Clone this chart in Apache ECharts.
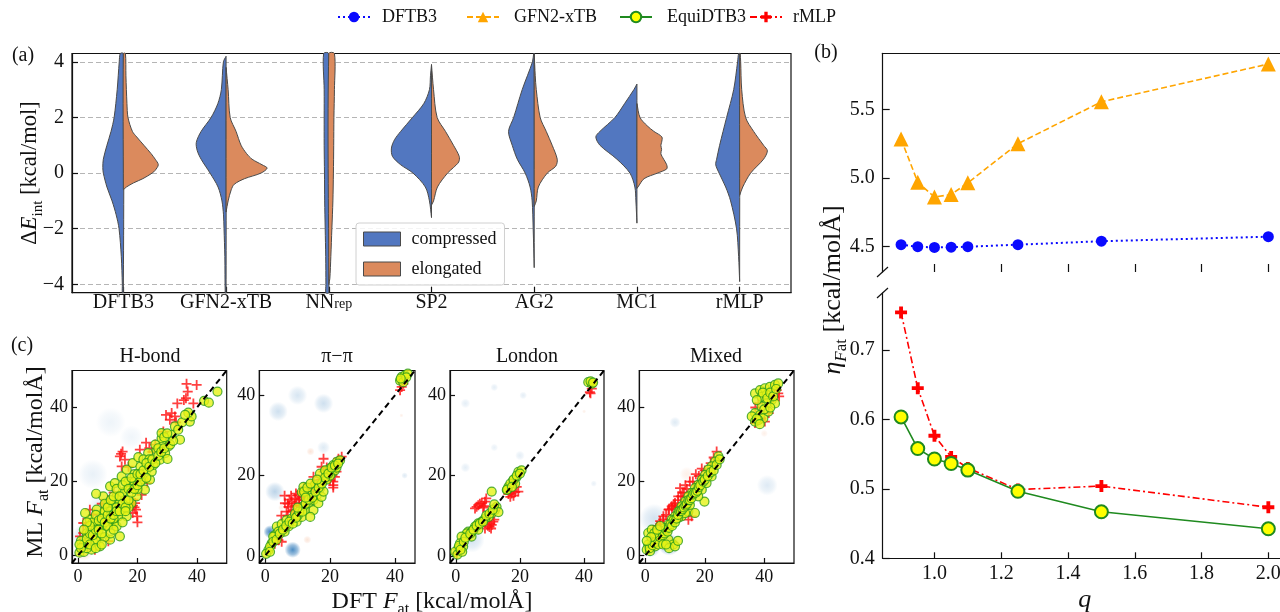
<!DOCTYPE html>
<html><head><meta charset="utf-8">
<script src="https://cdn.jsdelivr.net/npm/echarts@6/dist/echarts.min.js"></script>
<style>html,body{margin:0;padding:0;background:#fff}#c{width:1280px;height:612px}</style>
</head><body><div id="c"></div>
<script>
const FONT = 'Liberation Serif';
const INK = '#111';
// ---------------- Panel (a): split violins ----------------
const methods = ['DFTB3','GFN2-xTB','NN_rep','SP2','AG2','MC1','rMLP'];
const yTicksA = [-4,-2,0,2,4];
// density profiles: [deltaE, half-width as fraction of category band]
const compressed = [
  [[4.3,0.03],[4,0.04],[3,0.06],[2,0.09],[1.5,0.12],[1,0.16],[0.5,0.195],[0.2,0.2],[0,0.195],[-0.5,0.16],[-1,0.11],[-1.5,0.07],[-2,0.042],[-3,0.02],[-4,0.01],[-4.3,0.01]],
  [[4.2,0],[4,0.026],[3,0.046],[2.5,0.08],[2,0.146],[1.5,0.243],[1.1,0.29],[0.8,0.28],[0.5,0.243],[0,0.156],[-0.5,0.078],[-1,0.04],[-1.5,0.025],[-2,0.02],[-3,0.012],[-4.3,0.008]],
  [[4.3,0.05],[3,0.045],[2,0.045],[1,0.045],[0,0.042],[-1,0.04],[-2,0.035],[-3,0.03],[-4,0.028],[-4.3,0.028]],
  [[3.9,0],[3.5,0.01],[3,0.02],[2.5,0.075],[2,0.185],[1.5,0.3],[1.2,0.36],[0.9,0.39],[0.6,0.38],[0.3,0.3],[0,0.18],[-0.5,0.06],[-1,0.02],[-1.6,0]],
  [[4.3,0.005],[4,0.017],[3,0.117],[2,0.2],[1.5,0.25],[1,0.214],[0.5,0.165],[0,0.088],[-0.5,0.04],[-1,0.02],[-2,0.01],[-3.4,0]],
  [[3.2,0],[3,0.03],[2.5,0.12],[2,0.214],[1.5,0.36],[1.3,0.4],[1,0.36],[0.5,0.195],[0,0.068],[-0.5,0.02],[-1,0.01],[-1.8,0]],
  [[4.3,0.01],[4,0.02],[3,0.058],[2,0.127],[1,0.195],[0.5,0.224],[0.3,0.233],[0,0.2],[-0.5,0.136],[-1,0.088],[-2,0.03],[-3,0.01],[-3.9,0]]
];
const elongated = [
  [[4.3,0.02],[3.5,0.025],[2.5,0.035],[2,0.045],[1.5,0.088],[1.3,0.13],[1,0.2],[0.7,0.27],[0.5,0.31],[0.3,0.34],[0.1,0.31],[0,0.28],[-0.2,0.19],[-0.35,0.1],[-0.5,0.03],[-0.6,0]],
  [[3.8,0],[3,0.02],[2,0.04],[1.5,0.097],[1,0.146],[0.7,0.2],[0.5,0.253],[0.3,0.35],[0.18,0.4],[0,0.34],[-0.2,0.18],[-0.4,0.08],[-0.6,0.05],[-1,0.02],[-1.4,0]],
  [[4.3,0.055],[3,0.055],[2,0.05],[1,0.048],[0,0.045],[-1,0.04],[-2,0.03],[-3,0.02],[-3.8,0.01],[-4.0,0]],
  [[3.9,0],[3,0.02],[2,0.055],[1.5,0.136],[1,0.214],[0.6,0.27],[0.4,0.265],[0.2,0.214],[0,0.156],[-0.5,0.058],[-1,0.02],[-1.15,0]],
  [[4.3,0],[3.5,0.01],[3,0.02],[2,0.058],[1.5,0.117],[1,0.175],[0.5,0.224],[0.25,0.21],[0,0.127],[-0.5,0.04],[-1,0.02],[-1.2,0]],
  [[2.5,0],[2,0.03],[1.7,0.1],[1.5,0.165],[1.3,0.243],[1.1,0.24],[1,0.233],[0.85,0.24],[0.7,0.233],[0.5,0.26],[0.3,0.29],[0.15,0.29],[0,0.2],[-0.2,0.07],[-0.5,0.01],[-0.55,0]],
  [[4.3,0.005],[4,0.01],[3,0.02],[2,0.058],[1.5,0.136],[1,0.233],[0.8,0.27],[0.5,0.233],[0,0.107],[-0.5,0.03],[-0.8,0]]
];
// ---------------- Panel (b) ----------------
const qValues  = [0.9,0.95,1.0,1.05,1.1,1.25,1.5,2.0];
const etaDFTB3 = [4.515,4.50,4.495,4.497,4.50,4.515,4.54,4.573];
const etaGFN2  = [5.284,4.97,4.862,4.88,4.965,5.25,5.555,5.83];
const etaEqui  = [0.6035,0.558,0.543,0.5365,0.527,0.4965,0.467,0.4425];
const etaRMLP  = [0.754,0.645,0.5765,0.546,0.530,0.499,0.504,0.4735];
const qTicks   = [1.0,1.2,1.4,1.6,1.8,2.0];
const topTicks = [4.5,5.0,5.5];
const botTicks = [0.4,0.5,0.6,0.7];
// ---------------- Panel (c) ----------------
const panels = ['H-bond','π−π','London','Mixed'];
const cLimits = [[-2,50],[-1.8,46.2],[-1.8,46.2],[-2,50]];
const cTicks = [0,20,40];
const hbondEqui = [[0.5,0.8],[1.2,2.1],[2.0,1.0],[2.9,3.4],[4.6,1.6],[5.2,4.3],[7.4,2.5],[7.4,5.2],[9.6,7.9],[10.8,4.3],[11.9,8.8],[13.6,10.6],[14.1,5.2],[13.0,7.9],[10.8,9.7],[8.5,11.5],[6.3,12.4],[4.0,9.7],[2.4,11.5],[15.8,12.4],[16.4,10.6],[18.0,14.2],[10.2,14.2],[8.5,16.0],[6.1,16.7],[13.0,16.0],[10.8,18.7],[12.4,19.6],[14.7,21.4],[16.4,23.2],[16.4,17.8],[18.6,19.6],[19.7,16.0],[22.5,17.8],[22.0,20.5],[20.8,21.4],[23.1,23.2],[24.2,20.5],[24.8,22.7],[25.4,24.5],[18.4,25.0],[20.3,26.6],[23.6,27.7],[26.4,28.6],[27.6,25.9],[29.3,27.7],[30.1,26.1],[28.7,30.4],[30.4,29.5],[28.1,31.7],[31.5,32.6],[28.1,33.1],[32.6,34.9],[33.7,34.0],[34.3,31.3],[37.6,36.2],[38.2,37.6],[37.1,38.6],[42.4,41.8],[44.0,41.3],[46.9,44.3],[3,6],[5,7],[6,9],[8,8],[9,12],[11,12],[12,14],[14,14],[15,17],[17,20],[19,22],[21,24],[22,26],[24,26],[26,30],[27,29],[29,32],[30,33],[35,36],[36,38],[1,4],[3,2],[6,4],[9,5],[12,10],[13,13],[16,15],[17,13],[20,18],[19,20],
  [2,3],[3,4.5],[4,3],[4,6],[5,5.5],[5,9],[6,7],[6,11],[7,7],[7,9.5],[8,6],[8,10],[9,9],[9,14],[10,8],[10,11],[10,13],[11,10],[11,15],[12,11],[12,16],[13,12],[13,18],[14,12],[14,16],[15,14],[15,19],[16,13],[16,20],[17,15],[17,18],[18,17],[18,21],[19,18],[20,19],[20,22],[21,20],[21,22],[22,23],[23,21],[23,25],[24,24],[25,26],[26,25],[27,27],[28,28],[29,29],[31,30],[32,31],[4,8],[3,9],[2,7],[1,2],[0.5,3],[6,2],[8,3],[11,6],[12,7],[15,9],[16,12]];
const hbondRMLP = [[36.5,46.4],[39.9,46.1],[36.9,44.3],[36.3,42.5],[35.6,42.0],[38.8,41.1],[33.4,41.1],[31.5,38.5],[29.6,38.0],[32.6,37.6],[30.9,36.7],[28.7,33.5],[22.9,30.5],[20.8,28.6],[15.0,28.1],[14.1,26.8],[14.7,24.1],[15.8,25.9],[14.5,27.5],[19.2,14.2],[19.5,12.4],[19.9,10.6],[18.6,15.1],[18.4,11.5],[19.0,13.0],[23.3,19.6],[21.4,16.4],[4.0,12.4],[1.8,8.8],[0.7,5.2],[10.2,3.9],[5.7,1.6],[1.8,6.1],[26,30],[24,29],[3,8],[5,11],[8,14],[12,17],[10,15],[20,9],[18.5,13.5],[17,24],[25,28],[33,36]];
const pipiEqui = [[42.1,44.6],[43.1,45.0],[41.6,43.7],[42.6,43.3],[44.0,45.4],[1.0,1.4],[2.0,3.1],[3.1,5.2],[3.6,7.3],[5.1,7.9],[6.6,8.9],[8.2,9.3],[9.7,8.5],[11.3,9.7],[12.3,11.4],[13.3,13.1],[14.9,13.9],[15.9,15.1],[16.9,16.8],[18.0,18.8],[19.0,20.5],[20.0,21.8],[21.0,22.6],[22.1,23.4],[23.1,23.8],[11.3,15.9],[11.8,17.2],[13.3,15.5],[15.3,17.6],[16.9,20.5],[18.5,21.3],[20.5,20.5],[21.5,21.3],[9.2,10.5],[7.2,7.3],[4.1,6.0],[2.5,4.8],[1.5,2.3],[14.9,11.4],[16.4,13.1],[17.4,14.7],[13.9,9.7],[0.3,0.5],[6,6],[10,10],[12,12.5],[17,17.5],[19,19],[20,20],[22,22],[14,15],[18,16],
  [1.5,1],[2.5,3.5],[3.5,4],[4.5,5.5],[5.5,6.5],[6.5,7.5],[7.5,8.5],[8.5,8],[9.5,9.5],[10.5,11],[11.5,11],[12.5,13],[13.5,14],[14.5,14.5],[15.5,16],[16.5,17],[17.5,18],[18.5,19.5],[19.5,20.5],[20.5,22],[21.5,22.5],[22.5,23],[12,16],[13,17],[14,18],[16,19],[12.5,14.5],[10,12],[43.5,44.5],[41.8,44.2]];
const pipiRMLP = [[6.1,13.1],[7.2,12.2],[8.2,13.5],[9.2,14.3],[10.2,15.1],[11.3,14.7],[12.3,15.5],[13.3,16.8],[14.3,17.6],[14.9,19.7],[16.4,18.0],[17.4,22.2],[18.0,24.2],[21.5,19.7],[21.0,17.6],[20.0,18.8],[22.6,24.2],[23.6,24.7],[6.6,11.0],[5.1,6.4],[4.1,3.9],[5.1,3.5],[42.1,42.1],[42.6,42.9],[41.6,41.3],[9.7,13.1],[8.7,11.4],[11.8,13.9],[7.5,14],[10.5,12.5],[13,14],[15,16],[12,17],
  [6,15],[7,13],[8,15],[9,12.5],[9.5,15.5],[10.5,14],[11,16],[12,14.5],[13,15.5],[14,16.5],[15,18],[16,17],[17,19],[18,21],[19,20],[20,20],[21,18.5],[22,21],[8,11],[7,10],[5,10],[4,5],[3,3],[21,17],[19,22]];
const londonEqui = [[41.3,43.3],[42.4,42.9],[42,43.5],[19.5,20.9],[20.5,21.3],[19.0,19.7],[17.9,18.8],[16.4,17.2],[15.9,16.4],[18.5,18.0],[11.2,16.0],[12.2,11.4],[12.7,12.2],[11.2,10.6],[10.2,9.7],[9.1,9.3],[8.1,8.5],[7.0,8.1],[6.0,7.3],[3.9,6.0],[3.4,5.6],[1.8,4.8],[1.3,3.1],[0.8,1.9],[2.3,2.3],[-0.2,1.0],[4.9,4.8],[13.3,10.9],[0.5,0.3],[2,1],[5,6],[7,6.5],
  [1,2.5],[1.5,1.5],[2.5,3.5],[3,4.5],[4.5,5.5],[5.5,6.5],[6.5,7.5],[7.5,8],[8.5,8.5],[9.5,10],[10.5,10.5],[11.5,11.5],[12,12.8],[17,18],[18,19],[19,20],[20,20.5],[16,16.5],[17.5,17.2],[42.8,43.2]];
const londonRMLP = [[7.0,12.6],[8.1,13.1],[9.1,13.5],[6.5,12.2],[9.5,14.3],[10.7,8.1],[11.7,8.5],[11.2,7.7],[9.1,6.8],[17.4,15.5],[18.5,15.9],[19.0,17.2],[16.4,15.4],[41.8,40.8],[42.4,41.7],[8.5,12],[10.5,7.2],[0.3,0.6],
  [7.5,13],[8.8,12.4],[6,11.8],[10,7.5],[12,9],[11,6.8],[18,15],[19.5,16],[17,14.7],[42,40.5]];
const mixedEqui = [[36.9,43.8],[38.6,44.7],[40.2,45.2],[41.9,45.6],[43.6,46.1],[44.7,46.5],[39.1,42.9],[40.8,43.4],[42.5,42.0],[40.8,41.1],[39.1,40.3],[36.9,38.5],[35.8,37.6],[38.6,38.0],[36.9,36.2],[39.7,37.1],[41.4,38.9],[43.6,41.1],[38.0,36.6],[24.6,26.8],[23.5,25.4],[22.3,24.1],[21.2,23.2],[20.1,21.8],[19.0,20.5],[17.8,19.1],[16.7,18.2],[15.6,16.9],[14.5,16.0],[13.4,14.6],[12.2,13.3],[11.1,11.9],[10.0,10.6],[8.9,9.7],[7.8,8.4],[6.6,7.5],[5.5,6.6],[4.4,5.7],[3.3,4.8],[2.2,3.9],[1.0,3.0],[0.5,1.6],[1.6,1.2],[3.3,2.5],[5.5,3.4],[7.8,4.3],[9.4,3.0],[1.0,6.1],[2.2,7.0],[12.2,10.6],[14.5,11.9],[16.7,11.5],[19.9,14.6],[15.0,13.7],[19.0,17.8],[20.6,19.6],[22.3,21.4],[17.8,16.0],[11.1,10.2],[13.4,11.5],
  [1.5,2],[2.5,2.8],[3,3.5],[4,4.5],[4.5,3],[5,5],[6,5.5],[6.5,6],[7,7],[7.5,6.5],[8,7.5],[8.5,8.5],[9,8],[9.5,9.5],[10,9],[10.5,10],[11,11],[11.5,12],[12,12],[12.5,12.5],[13,13],[13.5,13.5],[14,14],[14.5,15],[15,15],[15.5,15.5],[16,16.5],[16.5,17],[17,17],[17.5,17.5],[18,18.5],[18.5,19],[19.5,20],[20,20.5],[21,21.5],[22,22.5],[23,23],[24,24.5],[25,26],[3,6],[4,7],[5,8],[2,5],[0.5,4],[6,3],[8,2],[10,2.5],[7,3],[11,4],[37.5,42],[39.5,44],[41,42.5],[42,44],[43,43],[44,45],[37.5,37],[40,39.5],[42,40],[38.5,35.5]];
const mixedRMLP = [[24.0,28.1],[11.7,18.2],[11.1,16.0],[10.0,14.2],[8.9,13.3],[7.8,12.4],[6.1,10.6],[5.0,9.3],[14.5,9.7],[15.6,10.6],[44.7,43.8],[36.9,35.8],[40.2,36.2],[44.2,44.7],[38.0,41.1],[12.5,17],[13.5,19],[15,20],[17,22],[19,23.5],[9.5,13.8],[4,8],[3,6],[41.5,38.5],[37,40],
  [6,9.8],[7,11],[8,12.5],[9,12.8],[10,13.5],[11,15],[12,16],[13,17],[14,18],[16,20],[18,21.5],[20,23],[22,25],[23,26.5],[5,8.5],[4,7.5],[42,43],[43,42],[39,37],[45,43]];
// KDE components: [x, y, rx, ry, angleDeg, alpha, kind(0 blue,1 orange)]
const hbondKde = [[3,5,5,7,0,0.3,0],[5,22,5,12,0,0.1,0],[11,36,5,10,0,0.08,0],[18,32,4,9,0,0.07,0],[9,13,6,7,0,0.15,0],[2,1,3,3,0,0.3,1]];
const pipiKde = [[1.5,6,2,5,0,0.85,0],[8.5,1.5,2.5,3,0,0.8,0],[3,16,3,8,0,0.3,0],[4,36,3,8,0,0.22,0],[10,40,3,6,0,0.18,0],[18,38,3,8,0,0.22,0],[18,27,2,6,0,0.15,0],[14,26,3,1,40,0.25,1],[5,12,2.5,0.8,40,0.2,1],[13,4,4,1,30,0.25,1],[43,20,1,3,0,0.15,0],[42,35,1,0.5,50,0.15,1]];
const londonKde = [[3,38,1.5,4,0,0.12,0],[12,42,1.2,3,0,0.12,0],[21,40,1.2,3,0,0.12,0],[3,22,1.5,4,0,0.12,0],[12,27,1.2,3,0,0.1,0],[20,25,1.5,3,0,0.12,0],[5,4,4,6,0,0.2,0],[43,18,1,2.5,0,0.1,0],[10,10,5,1,45,0.15,1],[40,36,1,0.5,50,0.15,1]];
const mixedKde = [[8,3,4,3,0,0.55,0],[2,2,3,4,0,0.4,0],[3,10,5,4,30,0.2,0],[10,36,2,1.5,0,0.15,0],[41,19,3.5,4,0,0.15,0],[14,22,6,2,45,0.15,1],[17,12,4,1.2,30,0.15,1],[40,33,2,1,40,0.15,1],[5,8,6,2,45,0.15,1]];

const cEqui = [hbondEqui, pipiEqui, londonEqui, mixedEqui];
const cRMLP = [hbondRMLP, pipiRMLP, londonRMLP, mixedRMLP];
const cKde  = [hbondKde, pipiKde, londonKde, mixedKde];

// ---------------- styling ----------------
const BLUE = '#5277c0', ORANGE = '#db8a5d', EDGE = '#4a4a4a';
const PLUS_THIN = 'path://M0,4.1H10V5.9H0Z M4.1,0H5.9V10H4.1Z';
const PLUS_THICK = 'path://M3.4,0H6.6V3.4H10V6.6H6.6V10H3.4V6.6H0V3.4H3.4Z';
const minus = v => (v < 0 ? '\u2212' + Math.abs(v) : String(v));

function axisLineStyle(){ return {show:true, onZero:false, lineStyle:{color:INK, width:1.2}}; }
function tickStyle(vals, len){ return {show:true, inside:true, length:len||5, customValues:vals, lineStyle:{color:INK, width:1.2}}; }

const chart = echarts.init(document.getElementById('c'), null, {renderer:'canvas'});

function violinRender(profiles, side, color){
  return function(params, api){
    const ci = api.value(0);
    const prof = profiles[ci];
    const band = Math.abs(api.coord([1,0])[0] - api.coord([0,0])[0]);
    const cx = api.coord([ci, 0])[0];
    const pts = prof.map(([y,w]) => [cx + side*w*band, api.coord([ci,y])[1]]);
    pts.push([cx, api.coord([ci, prof[prof.length-1][0]])[1]]);
    pts.push([cx, api.coord([ci, prof[0][0]])[1]]);
    return {type:'polygon', shape:{points:pts, smooth:0.3},
      style:{fill:color, stroke:EDGE, lineWidth:1}};
  };
}

function kdeRender(params, api){
  const x = api.value(0), y = api.value(1);
  const p = api.coord([x,y]);
  const p2 = api.coord([x + api.value(2), y + api.value(3)]);
  const rx = Math.abs(p2[0]-p[0]), ry = Math.abs(p2[1]-p[1]);
  const a = api.value(5);
  const rgb = api.value(6) === 0 ? '33,113,181' : '240,150,100';
  return {type:'ellipse', x:p[0], y:p[1], rotation: api.value(4)*Math.PI/180,
    shape:{cx:0, cy:0, rx:rx, ry:ry},
    style:{fill: new echarts.graphic.RadialGradient(0.5,0.5,0.5,[
      {offset:0, color:'rgba('+rgb+','+a+')'},
      {offset:0.6, color:'rgba('+rgb+','+(a*0.55)+')'},
      {offset:1, color:'rgba('+rgb+',0)'}])}};
}

const G = {outerBoundsMode:'none', containLabel:false};
const grids = [
  Object.assign({left:72, top:53.5, width:719, height:239.2, show:true, borderColor:INK, borderWidth:1.2}, G),
  Object.assign({left:882.7, top:53.3, width:404, height:218.7}, G),
  Object.assign({left:882.7, top:293, width:404, height:265.3}, G)
];
const cGridBox = [[72,154.7],[259.3,155.7],[450,154],[639.3,154.7]];
cGridBox.forEach(([l,w]) => grids.push(Object.assign({left:l, top:370.5, width:w, height:192.5, show:true, borderColor:INK, borderWidth:1.2}, G)));

const richCat = {n:{fontFamily:FONT, fontSize:20, color:INK, lineHeight:18}, s:{fontFamily:FONT, fontSize:14, color:INK, lineHeight:12, verticalAlign:'bottom'}};

const xAxes = [
  {gridIndex:0, type:'category', data:methods, boundaryGap:true,
   axisLine:axisLineStyle(), axisTick:{show:true, inside:true, alignWithLabel:true, length:6, lineStyle:{color:INK,width:1.2}},
   axisLabel:{margin:1, formatter:v => v==='NN_rep' ? '{n|NN}{s|rep}' : '{n|'+v+'}', rich:richCat}},
  {gridIndex:1, type:'value', min:0.845, max:2.055, axisLine:{show:false, onZero:false}, axisTick:tickStyle(qTicks,8),
   axisLabel:{show:false, customValues:qTicks}, splitLine:{show:false}},
  {gridIndex:1, type:'value', position:'top', min:0.845, max:2.055, axisLine:axisLineStyle(), axisTick:{show:false}, axisLabel:{show:false}, splitLine:{show:false}},
  {gridIndex:2, type:'value', min:0.845, max:2.055, axisLine:axisLineStyle(), axisTick:tickStyle(qTicks,6),
   axisLabel:{customValues:qTicks, formatter:v=>v.toFixed(1), fontFamily:FONT, fontSize:20, color:INK, margin:5},
   splitLine:{show:false}, name:'q', nameLocation:'middle', nameGap:29,
   nameTextStyle:{fontFamily:FONT, fontSize:26, fontStyle:'italic', color:INK}}
];
const yAxes = [
  {gridIndex:0, type:'value', min:-4.3, max:4.3, axisLine:axisLineStyle(), axisTick:tickStyle(yTicksA,6),
   axisLabel:{customValues:yTicksA, formatter:minus, fontFamily:FONT, fontSize:20, color:INK, margin:8},
   splitLine:{show:true, lineStyle:{color:'#b5b5b5', type:[5,3], width:1}}},
  {gridIndex:1, type:'value', min:4.316, max:5.908, axisLine:axisLineStyle(), axisTick:tickStyle(topTicks,7),
   axisLabel:{customValues:topTicks, formatter:v=>v.toFixed(1), fontFamily:FONT, fontSize:20, color:INK, margin:8}, splitLine:{show:false}},
  {gridIndex:2, type:'value', min:0.4, max:0.782, axisLine:axisLineStyle(), axisTick:tickStyle(botTicks,7),
   axisLabel:{customValues:botTicks, formatter:v=>v.toFixed(1), fontFamily:FONT, fontSize:20, color:INK, margin:8}, splitLine:{show:false}}
];
cLimits.forEach(([lo,hi], k) => {
  xAxes.push({gridIndex:3+k, type:'value', min:lo, max:hi, axisLine:axisLineStyle(), axisTick:tickStyle(cTicks,5),
    axisLabel:{customValues:cTicks, fontFamily:FONT, fontSize:18, color:INK, margin:5}, splitLine:{show:false}});
  yAxes.push({gridIndex:3+k, type:'value', min:lo, max:hi, axisLine:axisLineStyle(), axisTick:tickStyle(cTicks,5),
    axisLabel:{customValues:cTicks, fontFamily:FONT, fontSize:18, color:INK, margin:4}, splitLine:{show:false}});
});

const series = [
  {type:'custom', name:'compressed', xAxisIndex:0, yAxisIndex:0, itemStyle:{color:BLUE},
   data:methods.map((m,i)=>[i,0]), renderItem:violinRender(compressed,-1,BLUE), z:3},
  {type:'custom', name:'elongated', xAxisIndex:0, yAxisIndex:0, itemStyle:{color:ORANGE},
   data:methods.map((m,i)=>[i,0]), renderItem:violinRender(elongated,1,ORANGE), z:3},
  {type:'line', name:'DFTB3', xAxisIndex:1, yAxisIndex:1, data:qValues.map((q,i)=>[q,etaDFTB3[i]]),
   symbol:'circle', symbolSize:11, color:'#0a0aff', itemStyle:{color:'#0a0aff'},
   lineStyle:{color:'#0a0aff', width:2, type:[2,3]}, z:4},
  {type:'line', name:'GFN2-xTB', xAxisIndex:1, yAxisIndex:1, data:qValues.map((q,i)=>[q,etaGFN2[i]]),
   symbol:'triangle', symbolSize:15, color:'#ffa500', itemStyle:{color:'#ffa500'},
   lineStyle:{color:'#ffa500', width:1.6, type:[6,3]}, z:4},
  {type:'line', name:'rMLP', xAxisIndex:3, yAxisIndex:2, data:qValues.map((q,i)=>[q,etaRMLP[i]]),
   symbol:PLUS_THICK, symbolSize:12, color:'#ff0000', itemStyle:{color:'#ff0000'},
   lineStyle:{color:'#ff0000', width:1.6, type:[7,3,2,3]}, z:4},
  {type:'line', name:'EquiDTB3', xAxisIndex:3, yAxisIndex:2, data:qValues.map((q,i)=>[q,etaEqui[i]]),
   symbol:'circle', symbolSize:13, color:'#1f8a1f', itemStyle:{color:'#ffff00', borderColor:'#1f8a1f', borderWidth:2},
   lineStyle:{color:'#1f8a1f', width:1.6}, z:5}
];
cLimits.forEach(([lo,hi], k) => {
  series.push({type:'custom', xAxisIndex:4+k, yAxisIndex:3+k, data:cKde[k], renderItem:kdeRender, clip:true, silent:true, z:1});
  series.push({type:'scatter', xAxisIndex:4+k, yAxisIndex:3+k, data:cRMLP[k], symbol:PLUS_THIN, symbolSize:10,
    itemStyle:{color:'#ff1010'}, z:2, silent:true});
  series.push({type:'scatter', xAxisIndex:4+k, yAxisIndex:3+k, data:cEqui[k], symbol:'circle', symbolSize:9,
    itemStyle:{color:'#e6f216', borderColor:'#2a9a1a', borderWidth:1.2}, z:3, silent:true});
  series.push({type:'line', xAxisIndex:4+k, yAxisIndex:3+k, data:[[lo,lo],[hi,hi]], symbol:'none',
    lineStyle:{color:'#000', width:2, type:[6,4]}, z:4, silent:true});
});

function lg(name, left, pad){
  return {data:[name], left:left, top:8, padding:0, itemWidth:32, itemHeight:13, selectedMode:false,
    textStyle:{fontFamily:FONT, fontSize:18, color:INK, padding:[0,0,0,pad]}};
}
const legends = [
  lg('DFTB3', 337, 7), lg('GFN2-xTB', 466, 10), lg('EquiDTB3', 619, 10), lg('rMLP', 749, 6),
  {orient:'vertical', left:356, top:223, padding:[7,8,7,7], itemGap:12, itemWidth:37, itemHeight:14,
   borderColor:'#d0d0d0', borderWidth:1, borderRadius:3, backgroundColor:'rgba(255,255,255,0.85)', selectedMode:false,
   data:[{name:'compressed', icon:'rect', itemStyle:{color:BLUE, borderColor:EDGE, borderWidth:1}},
         {name:'elongated', icon:'rect', itemStyle:{color:ORANGE, borderColor:EDGE, borderWidth:1}}],
   textStyle:{fontFamily:FONT, fontSize:18, color:INK, padding:[0,0,0,6]}}
];

function txt(x, y, text, size){
  return {type:'text', x:x, y:y, z:50, style:{text:text, fontFamily:FONT, fontSize:size, fill:INK, align:'center', verticalAlign:'middle'}};
}
function rtxt(x, y, text, rich, rot){
  return {type:'text', x:x, y:y, rotation:rot||0, z:50, style:{text:text, rich:rich, align:'center', verticalAlign:'middle', fontFamily:FONT, fill:INK}};
}
const R = (fs) => ({
  n:{fontFamily:FONT, fontSize:fs, fill:INK, lineHeight:fs+8},
  i:{fontFamily:FONT, fontSize:fs, fill:INK, fontStyle:'italic', lineHeight:fs+8},
  s:{fontFamily:FONT, fontSize:Math.round(fs*0.66), fill:INK, lineHeight:Math.round(fs*0.66), verticalAlign:'bottom'},
  si:{fontFamily:FONT, fontSize:Math.round(fs*0.66), fill:INK, fontStyle:'italic', lineHeight:Math.round(fs*0.66), verticalAlign:'bottom'}
});
const graphics = [
  txt(23, 56, '(a)', 20), txt(826, 53, '(b)', 20), txt(22, 346, '(c)', 20),
  txt(150, 357, panels[0], 20), txt(337, 357, panels[1], 20), txt(527, 357, panels[2], 20), txt(716, 357, panels[3], 20),
  rtxt(30, 173, '{n|Δ}{i|E}{s|int}{n| [kcal/mol]}', R(22.5), Math.PI/2),
  rtxt(833, 290, '{i|η}{si|F}{s|at}{n| [kcal/molÅ]}', R(26), Math.PI/2),
  rtxt(36, 462, '{n|ML }{i|F}{s|at}{n| [kcal/molÅ]}', R(24), Math.PI/2),
  rtxt(432, 602, '{n|DFT }{i|F}{s|at}{n| [kcal/molÅ]}', R(24), 0),
  {type:'line', z:50, shape:{x1:877, y1:277, x2:888, y2:267}, style:{stroke:INK, lineWidth:1.2}},
  {type:'line', z:50, shape:{x1:877, y1:298, x2:888, y2:288}, style:{stroke:INK, lineWidth:1.2}}
];

chart.setOption({
  animation:false, backgroundColor:'#fff',
  textStyle:{fontFamily:FONT},
  grid:grids, xAxis:xAxes, yAxis:yAxes, series:series, legend:legends, graphic:graphics
});
</script></body></html>
